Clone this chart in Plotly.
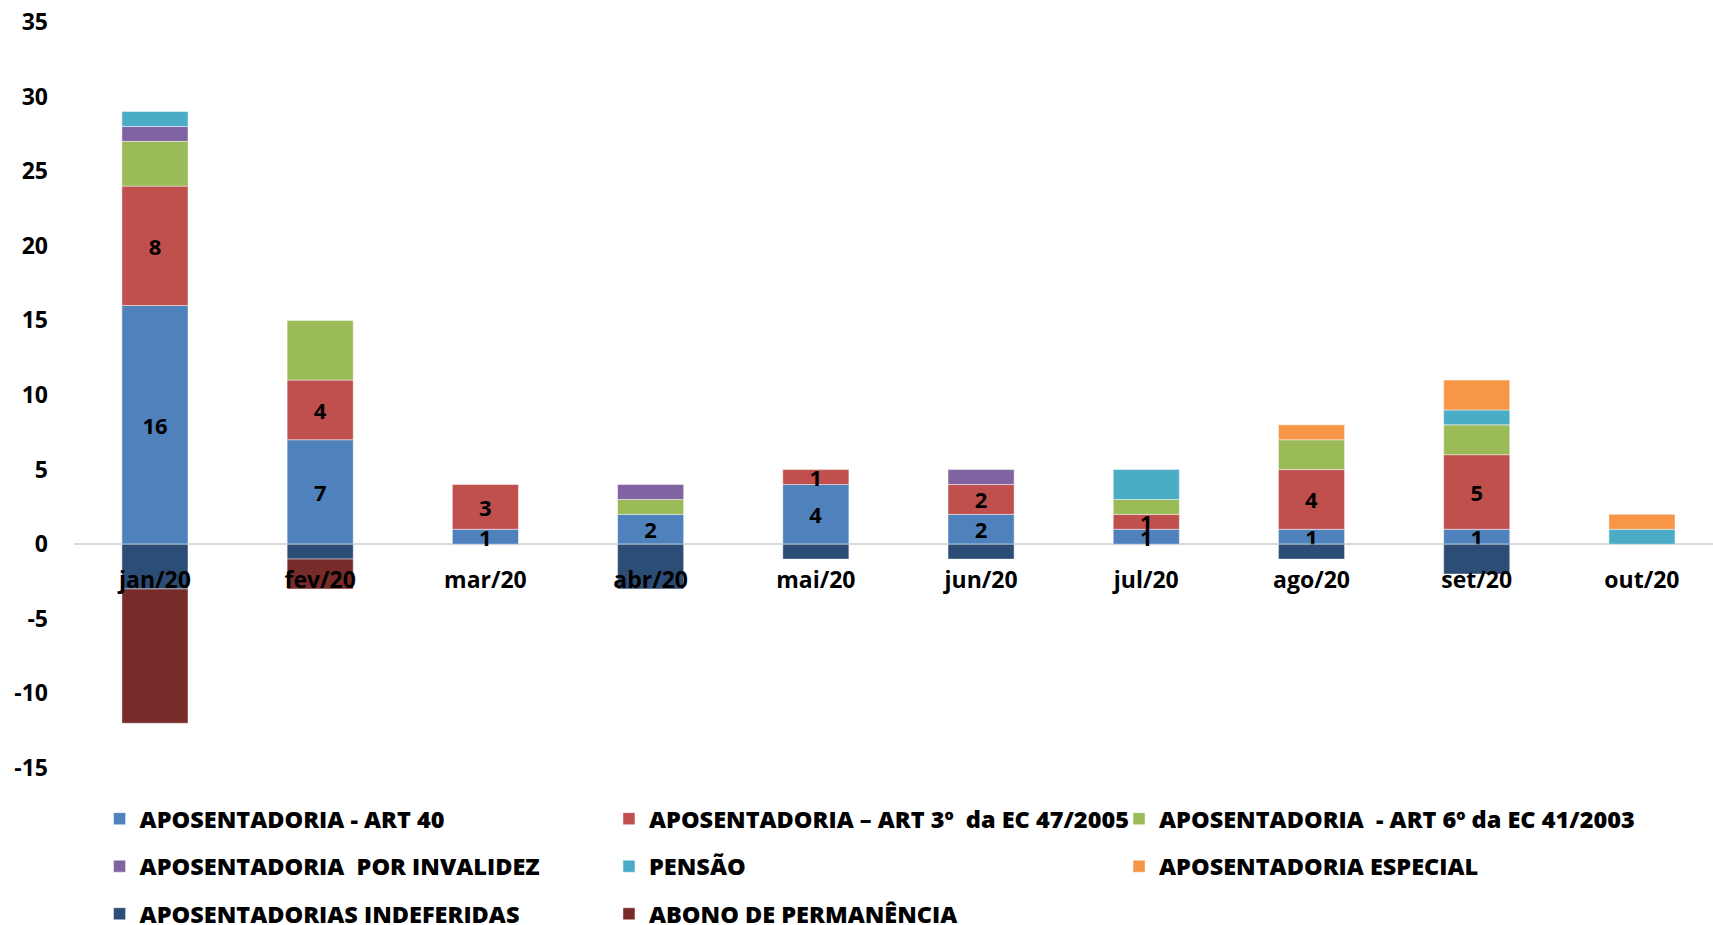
import plotly.graph_objects as go

months = ["jan/20", "fev/20", "mar/20", "abr/20", "mai/20", "jun/20", "jul/20", "ago/20", "set/20", "out/20"]

# positive stack
art40 = [16, 7, 1, 2, 4, 2, 1, 1, 1, None]
art3_ec47 = [8, 4, 3, None, 1, 2, 1, 4, 5, None]
art6_ec41 = [3, 4, None, 1, None, None, 1, 2, 2, None]
invalidez = [1, None, None, 1, None, 1, None, None, None, None]
pensao = [1, None, None, None, None, None, 2, None, 1, 1]
especial = [None, None, None, None, None, None, None, 1, 2, 1]
# negative stack
indeferidas = [-3, -1, None, -3, -1, -1, None, -1, -2, None]
abono = [-9, -2, None, None, None, None, None, None, None, None]

# y axis ticks (excel style hyphen instead of unicode minus)
y_ticks = [-15, -10, -5, 0, 5, 10, 15, 20, 25, 30, 35]
y_tick_labels = ["-15", "-10", "-5", "0", "5", "10", "15", "20", "25", "30", "35"]

FONT = "Open Sans"

# name, values, colour, show value labels, legend column
series = [
    ("APOSENTADORIA - ART 40", art40, "#4F81BD", True, "legend"),
    ("APOSENTADORIA \u2013 ART 3\u00ba  da EC 47/2005", art3_ec47, "#C0504D", True, "legend2"),
    ("APOSENTADORIA  - ART 6\u00ba da EC 41/2003", art6_ec41, "#9BBB59", False, "legend3"),
    ("APOSENTADORIA  POR INVALIDEZ", invalidez, "#8064A2", False, "legend"),
    ("PENS\u00c3O", pensao, "#4BACC6", False, "legend2"),
    ("APOSENTADORIA ESPECIAL", especial, "#F79646", False, "legend3"),
    ("APOSENTADORIAS INDEFERIDAS", indeferidas, "#2C4D75", False, "legend"),
    ("ABONO DE PERMAN\u00caNCIA", abono, "#772C2A", False, "legend2"),
]

fig = go.Figure()
for i, (name, vals, color, show_text, leg) in enumerate(series):
    fig.add_trace(go.Bar(
        x=months,
        y=vals,
        name=name,
        legend=leg,
        legendgroup=f"g{i}",
        marker=dict(color=color, line=dict(color="rgba(255,255,255,0.45)", width=1)),
        text=vals if show_text else None,
        textposition="inside" if show_text else "none",
        insidetextanchor="middle",
        textangle=0,
        constraintext="none",
        textfont=dict(family=FONT, size=22, color="black", weight="bold"),
        width=0.4,
    ))

legend_common = dict(
    orientation="v",
    xanchor="left",
    yanchor="top",
    y=-0.0387,
    tracegroupgap=14,
    font=dict(family=FONT, size=23.5, color="black", weight=800),
    bgcolor="rgba(0,0,0,0)",
    traceorder="grouped",
)

fig.update_layout(
    width=1713,
    height=925,
    barmode="relative",
    margin=dict(l=74, r=0, t=22, b=157, autoexpand=False),
    paper_bgcolor="white",
    plot_bgcolor="white",
    showlegend=True,
    legend=dict(legend_common, x=0.0156),
    legend2=dict(legend_common, x=0.3264),
    legend3=dict(legend_common, x=0.6376),
    xaxis=dict(
        range=[-0.49, 9.43],
        anchor="free",
        position=0.3,
        showline=False,
        showgrid=False,
        ticks="",
        ticklabelstandoff=20,
        tickfont=dict(family=FONT, size=23, color="black", weight="bold"),
    ),
    yaxis=dict(
        range=[-15, 35],
        tickvals=y_ticks,
        ticktext=y_tick_labels,
        showgrid=False,
        zeroline=True,
        zerolinecolor="#D9D9D9",
        zerolinewidth=2,
        ticks="",
        ticklabelstandoff=25,
        tickfont=dict(family=FONT, size=23, color="black", weight="bold"),
    ),
)

# drop the default 8px body margin so the figure fills the window exactly
fig.write_html(
    "out.html",
    config={"displayModeBar": False},
    post_script="document.body.style.margin='0';",
)
